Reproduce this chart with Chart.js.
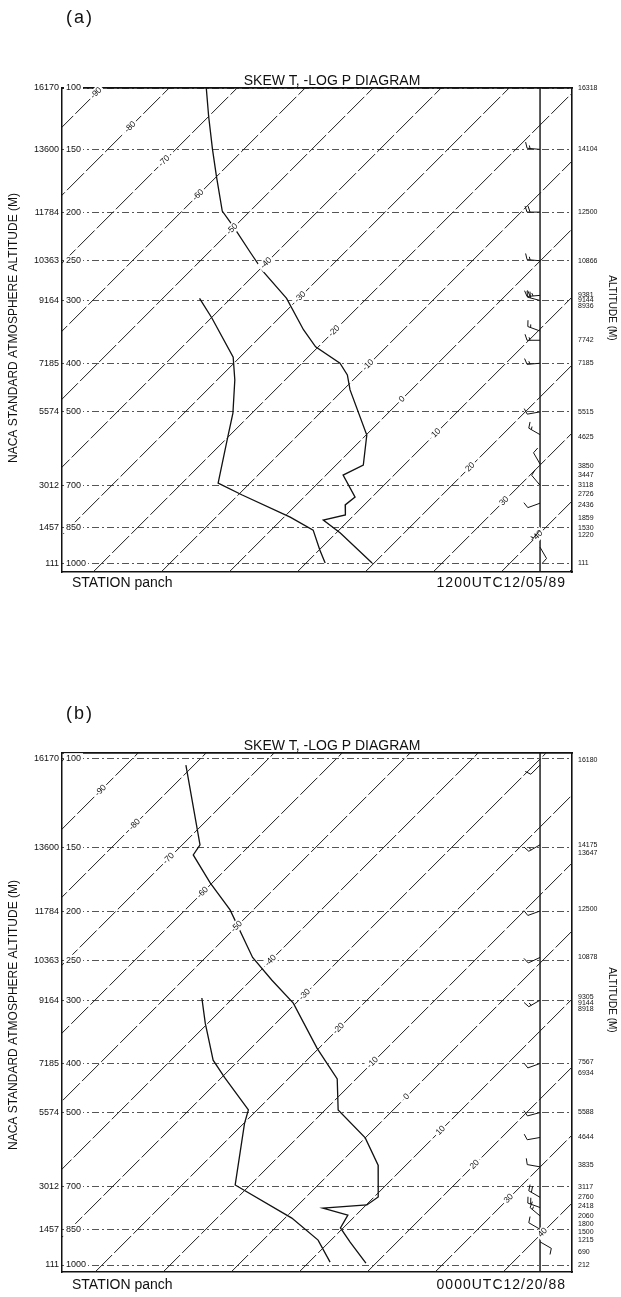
<!DOCTYPE html>
<html lang="en">
<head>
<meta charset="UTF-8">
<title>Skew T - Log P Diagrams, station panch</title>
<script src="https://cdn.jsdelivr.net/npm/chart.js"></script>
<style>
    body { margin: 0; background: #fff; }
    .panel { position: absolute; left: 0; width: 621px; }
    #panelA { top: 0; }
    #panelB { top: 648px; }
</style>
</head>
<body>
<div class="panel" id="panelA"><canvas id="chartA" width="621" height="648"></canvas></div>
<div class="panel" id="panelB"><canvas id="chartB" width="621" height="649"></canvas></div>

<script>
// ---- shared diagram data ----
const isothermTemps = [-100, -90, -80, -70, -60, -50, -40, -30, -20, -10, 0, 10, 20, 30, 40, 50];
const levelPressures = [100, 150, 200, 250, 300, 400, 500, 700, 850, 1000];
const levelAltitudes = ['16170', '13600', '11784', '10363', '9164', '7185', '5574', '3012', '1457', '111'];

// ---- (a) 1200UTC 12/05/89 ----
const tempPresA = [113, 129, 150, 170, 199, 214, 241, 263, 297, 343, 371, 400, 422, 452, 556, 638, 668, 739, 766, 802, 821, 871, 1000];
const tempA = [-74.6, -70.0, -64.6, -60.0, -54.1, -50.1, -43.8, -39.1, -31.8, -24.7, -20.4, -14.4, -11.6, -9.0, 0.1, 4.0, 2.5, 7.5, 7.2, 8.7, 6.2, 10.6, 19.7];
const dewPresA = [297, 325, 389, 432, 503, 569, 693, 732, 810, 860, 942, 1000];
const dewA = [-44.6, -39.9, -31.0, -27.4, -22.8, -19.7, -14.7, -9.4, 0.9, 6.2, 10.1, 12.8];
const hgtPresA = [113.2, 150, 200, 250, 293, 300, 308, 360, 400, 500, 560, 640, 668, 700, 730, 765, 815, 850, 880, 1000];
const hgtLabelsA = ['16318', '14104', '12500', '10866', '9381', '9144', '8936', '7742', '7185', '5515', '4625', '3850', '3447', '3118', '2726', '2436', '1859', '1530', '1220', '111'];
const windPresA = [150, 200, 250, 293, 300, 345, 360, 400, 500, 555, 635, 700, 760, 860, 930];
const windDirA = [275, 270, 275, 265, 285, 290, 270, 265, 260, 300, 330, 320, 250, 220, 150];
const windSpdA = [15, 20, 15, 25, 20, 15, 15, 15, 10, 15, 10, 10, 10, 5, 10];

// ---- (b) 0000UTC 12/20/88 ----
const tempPresB = [103, 148, 155, 176, 199, 247, 274, 304, 373, 429, 494, 561, 635, 734, 761, 772, 797, 845, 901, 991];
const tempB = [-81.2, -67.4, -66.9, -60.3, -53.4, -43.1, -36.9, -30.4, -20.3, -12.8, -8.1, 0.0, 5.9, 10.6, 10.1, 4.1, 8.8, 9.6, 13.1, 18.5];
const dewPresB = [297, 333, 394, 426, 494, 525, 695, 808, 893, 987];
const dewB = [-44.6, -40.4, -33.8, -29.6, -21.3, -19.9, -12.2, 1.0, 8.1, 13.1];
const hgtPresB = [100.7, 148, 154, 198, 247, 296, 304, 313, 397, 418, 499, 559, 635, 702, 734, 764, 800, 830, 860, 893, 943, 1000];
const hgtLabelsB = ['16180', '14175', '13647', '12500', '10878', '9305', '9144', '8918', '7567', '6934', '5588', '4644', '3835', '3117', '2760', '2418', '2060', '1800', '1500', '1215', '690', '212'];
const windPresB = [103, 148, 200, 247, 300, 400, 500, 560, 640, 735, 770, 800, 850, 900];
const windDirB = [225, 240, 250, 245, 240, 250, 255, 260, 280, 300, 290, 310, 300, 120];
const windSpdB = [10, 15, 10, 10, 15, 10, 10, 10, 10, 20, 20, 15, 10, 10];

// ---- layout ----
const X_MIN = -25.9, X_MAX = 49.1;   // skewed temperature axis (degC at 1000 mb)
const WIND_STAFF_X = 44.4;
const LEFT_W = 62, RIGHT_W = 49;
const FONT = "'Liberation Sans', Arial, sans-serif";
const INK = '#111';

function drawBarb(ctx, x, y, dir, spd) {
    const L = 13, F = 6;
    const a = dir * Math.PI / 180;
    const ux = Math.sin(a), uy = -Math.cos(a);
    const px = -uy, py = ux;
    const ex = x + ux * L, ey = y + uy * L;
    ctx.beginPath();
    ctx.moveTo(x, y);
    ctx.lineTo(ex, ey);
    let rest = Math.round(spd / 5) * 5, k = 0;
    while (rest >= 10) {
        const bx = ex - ux * k * 3, by = ey - uy * k * 3;
        ctx.moveTo(bx, by);
        ctx.lineTo(bx + px * F + ux * 2, by + py * F + uy * 2);
        rest -= 10; k++;
    }
    if (rest >= 5) {
        const bx = ex - ux * (k + (k ? 0 : 1)) * 3, by = ey - uy * (k + (k ? 0 : 1)) * 3;
        ctx.moveTo(bx, by);
        ctx.lineTo(bx + px * F / 2 + ux, by + py * F / 2 + uy);
    }
    ctx.stroke();
}

function buildPanel(cfg) {
    const lnTop = Math.log(cfg.pTop), lnBot = Math.log(cfg.pBot);
    const areaW = 621 - LEFT_W - RIGHT_W;
    const areaH = cfg.height - cfg.padTop - cfg.padBottom;
    const K = (areaH / (lnBot - lnTop)) / (areaW / (X_MAX - X_MIN));
    const skewX = (t, p) => t + K * Math.log(1000 / p);
    const pt = (p, t) => ({ x: skewX(t, p), y: Math.log(p) });

    const datasets = isothermTemps.map(t => ({
        data: [pt(cfg.pBot, t), pt(cfg.pTop, t)],
        borderColor: '#1c1c1c', borderWidth: 1, borderDash: [24, 3]
    }));
    datasets.push({ data: cfg.tempPres.map((p, i) => pt(p, cfg.temp[i])), borderColor: INK, borderWidth: 1.3 });
    datasets.push({ data: cfg.dewPres.map((p, i) => pt(p, cfg.dew[i])), borderColor: INK, borderWidth: 1.3 });
    datasets.push({ data: [{ x: WIND_STAFF_X, y: lnTop }, { x: WIND_STAFF_X, y: lnBot }], borderColor: INK, borderWidth: 1.4 });
    datasets.forEach(d => { d.showLine = true; d.pointRadius = 0; d.fill = false; });

    const levelTicks = cfg.levelPres.map(p => Math.log(p));
    const setTicks = vals => s => { s.ticks = vals.map(v => ({ value: v })); };

    const decor = {
        id: 'decor' + cfg.id,
        afterDatasetsDraw(chart) {
            const { ctx, chartArea: a, scales: { x, y } } = chart;
            // isotherm labels
            ctx.save();
            ctx.font = '8.5px ' + FONT;
            ctx.textAlign = 'center';
            ctx.textBaseline = 'middle';
            isothermTemps.forEach(t => {
                const f = l => y.getPixelForValue(l) - x.getPixelForValue(skewX(t, Math.exp(l))) - cfg.labelDiag;
                const f0 = f(lnTop), f1 = f(lnBot);
                const l = lnTop - f0 * (lnBot - lnTop) / (f1 - f0);
                const px = x.getPixelForValue(skewX(t, Math.exp(l))), py = y.getPixelForValue(l);
                if (px < a.left + 8 || px > a.right - 25 || py < a.top + 5 || py > a.bottom - 8) return;
                const txt = String(t);
                ctx.save();
                ctx.translate(px, py);
                ctx.rotate(-Math.PI / 4);
                const w = ctx.measureText(txt).width + 4;
                ctx.fillStyle = '#fff';
                ctx.fillRect(-w / 2, -5, w, 10);
                ctx.fillStyle = INK;
                ctx.fillText(txt, 0, 0);
                ctx.restore();
            });
            // wind barbs
            ctx.strokeStyle = INK;
            ctx.lineWidth = 1;
            const sx = x.getPixelForValue(WIND_STAFF_X);
            cfg.windPres.forEach((p, i) => drawBarb(ctx, sx, y.getPixelForValue(Math.log(p)), cfg.windDir[i], cfg.windSpd[i]));
            ctx.restore();
        },
        afterDraw(chart) {
            const ctx = chart.ctx;
            ctx.save();
            ctx.fillStyle = INK;
            ctx.textBaseline = 'middle';
            const txt = (s, x, y, font, align, spacing, rot) => {
                ctx.save();
                ctx.font = font;
                ctx.textAlign = align;
                ctx.letterSpacing = spacing || '0px';
                ctx.translate(x, y);
                if (rot) ctx.rotate(rot);
                ctx.fillText(s, 0, 0);
                ctx.restore();
            };
            txt(cfg.tag, 66, cfg.tagY, '18px ' + FONT, 'left', '2px');
            txt('SKEW T, -LOG P DIAGRAM', 332, cfg.titleY, '14px ' + FONT, 'center');
            txt('STATION panch', 72, cfg.footY, '14px ' + FONT, 'left');
            txt(cfg.stamp, 566, cfg.footY, '14px ' + FONT, 'right', '1px');
            txt('NACA STANDARD ATMOSPHERE ALTITUDE (M)', 14, cfg.leftTitleY, '12px ' + FONT, 'center', '0px', -Math.PI / 2);
            txt('ALTITUDE (M)', 612, cfg.rightTitleY, '10px ' + FONT, 'center', '0px', Math.PI / 2);
            ctx.restore();
        }
    };

    new Chart(document.getElementById(cfg.id), {
        type: 'scatter',
        data: { datasets },
        plugins: [decor],
        options: {
            responsive: false,
            animation: false,
            events: [],
            layout: { padding: { top: cfg.padTop, bottom: cfg.padBottom, left: 0, right: 0 } },
            elements: { line: { tension: 0 }, point: { radius: 0 } },
            plugins: { legend: { display: false }, tooltip: { enabled: false } },
            scales: {
                x: {
                    type: 'linear', min: X_MIN, max: X_MAX,
                    ticks: { display: false }, grid: { display: false, drawTicks: false },
                    border: { display: true, color: INK, width: 1.6 },
                    afterFit: s => { s.height = 0; }
                },
                xt: {
                    type: 'linear', position: 'top', min: X_MIN, max: X_MAX,
                    ticks: { display: false }, grid: { display: false, drawTicks: false },
                    border: { display: true, color: INK, width: 1.8 },
                    afterFit: s => { s.height = 0; }
                },
                y: {
                    type: 'linear', position: 'left', weight: 1, reverse: true, min: lnTop, max: lnBot,
                    afterBuildTicks: setTicks(levelTicks),
                    ticks: { autoSkip: false, padding: 3, color: INK, font: { size: 9, family: FONT },
                        callback: (v, i) => levelAltitudes[i] },
                    grid: { display: false, drawTicks: false },
                    border: { display: true, color: INK, width: 1.5 },
                    afterFit: s => { s.width = LEFT_W; }
                },
                yp: {
                    type: 'linear', position: 'left', weight: 0, reverse: true, min: lnTop, max: lnBot,
                    afterBuildTicks: setTicks(levelTicks),
                    ticks: { autoSkip: false, mirror: true, padding: 4, color: INK, z: 1,
                        font: { size: 9, family: FONT },
                        showLabelBackdrop: true, backdropColor: '#fff', backdropPadding: { x: 2, y: 0, top: 0, bottom: 0, left: 2, right: 2 },
                        callback: (v, i) => String(levelPressures[i]) },
                    grid: { display: true, drawTicks: false, color: '#2a2a2a', lineWidth: 0.8 },
                    border: { display: false, dash: [7, 3, 2, 3] },
                    afterFit: s => { s.width = 0; }
                },
                yr: {
                    type: 'linear', position: 'right', reverse: true, min: lnTop, max: lnBot,
                    afterBuildTicks: setTicks(cfg.hgtPres.map(p => Math.log(p))),
                    ticks: { autoSkip: false, padding: 6, color: INK, font: { size: 7, family: FONT },
                        callback: (v, i) => cfg.hgtLabels[i] },
                    grid: { display: false, drawTicks: false },
                    border: { display: true, color: INK, width: 1.6 },
                    afterFit: s => { s.width = RIGHT_W; }
                }
            }
        }
    });
}

// panel (a): on this print the 100 mb label sits on the top edge (about 113 mb on the log scale)
buildPanel({
    id: 'chartA', height: 648, padTop: 88, padBottom: 76, pTop: 113.2, pBot: 1042,
    levelPres: [113.2, 150, 200, 250, 300, 400, 500, 700, 850, 1000],
    tempPres: tempPresA, temp: tempA, dewPres: dewPresA, dew: dewA,
    hgtPres: hgtPresA, hgtLabels: hgtLabelsA,
    windPres: windPresA, windDir: windDirA, windSpd: windSpdA,
    labelDiag: -3, tag: '(a)', tagY: 18, titleY: 81, footY: 583,
    stamp: '1200UTC12/05/89', leftTitleY: 328, rightTitleY: 308
});

buildPanel({
    id: 'chartB', height: 649, padTop: 105, padBottom: 25, pTop: 97.5, pBot: 1032.3,
    levelPres: levelPressures,
    tempPres: tempPresB, temp: tempB, dewPres: dewPresB, dew: dewB,
    hgtPres: hgtPresB, hgtLabels: hgtLabelsB,
    windPres: windPresB, windDir: windDirB, windSpd: windSpdB,
    labelDiag: 42, tag: '(b)', tagY: 66, titleY: 98, footY: 637,
    stamp: '0000UTC12/20/88', leftTitleY: 367, rightTitleY: 352
});
</script>
</body>
</html>
